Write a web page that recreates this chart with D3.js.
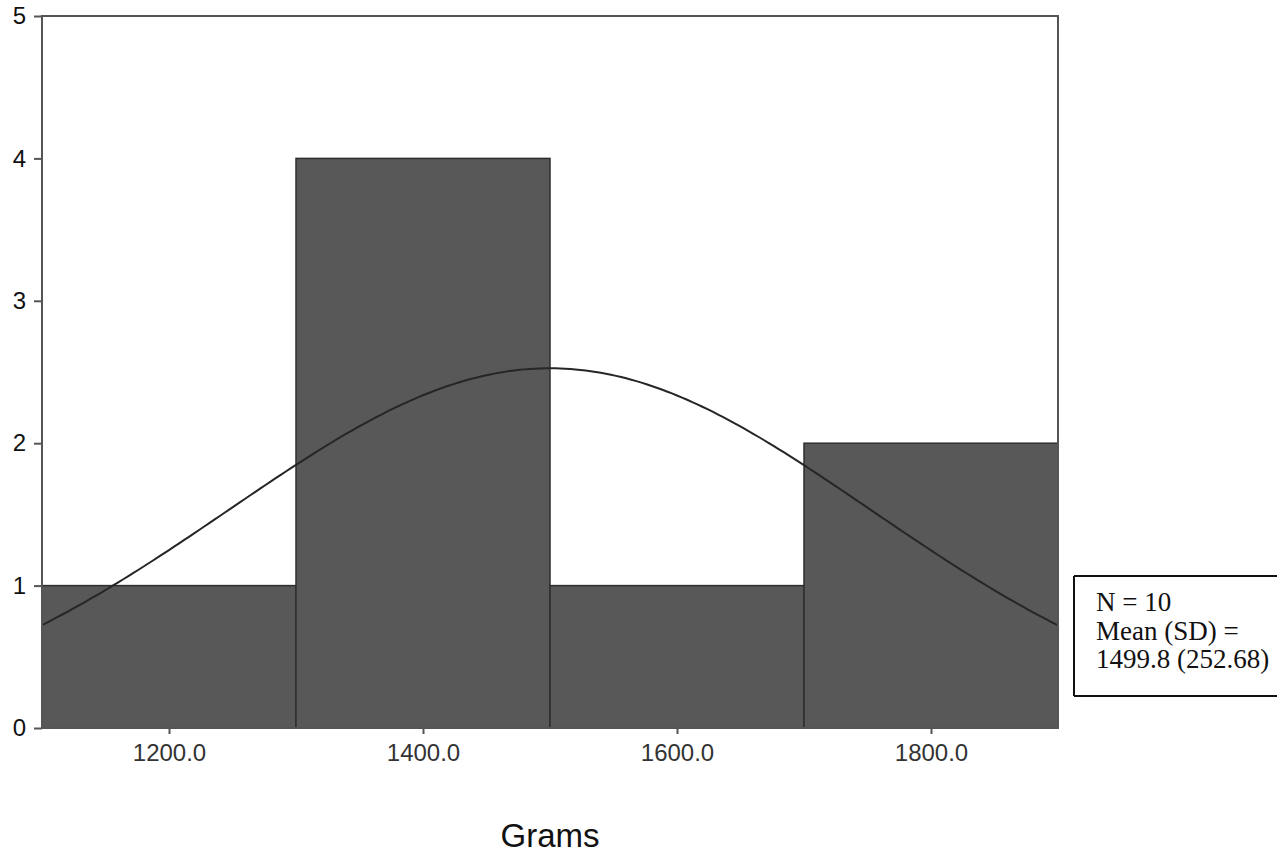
<!DOCTYPE html>
<html>
<head>
<meta charset="utf-8">
<script src="https://cdn.jsdelivr.net/npm/d3@7/dist/d3.min.js"></script>
<style>
  html, body { margin: 0; padding: 0; background: #fff; }
  svg { display: block; }
</style>
</head>
<body>
<script>
// Histogram of weights (grams) with fitted normal curve
const binStarts = [1100, 1300, 1500, 1700];
const binWidth = 200;
const counts = [1, 4, 1, 2];
const xTicks = [1200, 1400, 1600, 1800];
const yTicks = [0, 1, 2, 3, 4, 5];
const statN = 10;
const statMean = 1499.8;
const statSD = 252.68;

const W = 1285, H = 856;
const plotLeft = 42, plotRight = 1058, plotTop = 16, plotBottom = 728;

const svg = d3.select("body").append("svg")
  .attr("width", W).attr("height", H);

const x = d3.scaleLinear().domain([1100, 1900]).range([plotLeft, plotRight]);
const y = d3.scaleLinear().domain([0, 5]).range([plotBottom, plotTop]);

// bars
svg.append("g").selectAll("rect")
  .data(binStarts.map((s, i) => ({ s, c: counts[i] })))
  .join("rect")
  .attr("x", d => x(d.s))
  .attr("y", d => y(d.c))
  .attr("width", d => x(d.s + binWidth) - x(d.s))
  .attr("height", d => y(0) - y(d.c))
  .attr("fill", "#585858")
  .attr("stroke", "#2e2e2e")
  .attr("stroke-width", 1.5);

// normal curve scaled to the histogram's total count
const total = d3.sum(counts);
const dens = v => total * binWidth / (statSD * Math.sqrt(2 * Math.PI)) *
  Math.exp(-0.5 * ((v - statMean) / statSD) ** 2);
const xs = d3.range(1100, 1900.01, 4);
svg.append("path")
  .datum(xs)
  .attr("fill", "none")
  .attr("stroke", "#262626")
  .attr("stroke-width", 2)
  .attr("d", d3.line().x(v => x(v)).y(v => y(dens(v))));

// frame
svg.append("rect")
  .attr("x", plotLeft).attr("y", plotTop)
  .attr("width", plotRight - plotLeft).attr("height", plotBottom - plotTop)
  .attr("fill", "none").attr("stroke", "#555").attr("stroke-width", 2);

// y axis
const yAxis = svg.append("g")
  .attr("transform", `translate(${plotLeft},0)`)
  .call(d3.axisLeft(y).tickValues(yTicks).tickFormat(d3.format("d")).tickSize(8).tickPadding(8));
yAxis.select(".domain").remove();
yAxis.selectAll("line").attr("stroke", "#555").attr("stroke-width", 2);
yAxis.selectAll("text")
  .attr("font-family", "Arial, 'Liberation Sans', sans-serif")
  .attr("font-size", 24).attr("fill", "#111");

// x axis
const xAxis = svg.append("g")
  .attr("transform", `translate(0,${plotBottom})`)
  .call(d3.axisBottom(x).tickValues(xTicks).tickFormat(d3.format(".1f")).tickSize(6).tickPadding(10));
xAxis.select(".domain").remove();
xAxis.selectAll("line").attr("stroke", "#555").attr("stroke-width", 2);
xAxis.selectAll("text")
  .attr("font-family", "Arial, 'Liberation Sans', sans-serif")
  .attr("font-size", 24).attr("fill", "#333");

// axis title
svg.append("text")
  .attr("x", 550).attr("y", 847)
  .attr("text-anchor", "middle")
  .attr("font-family", "Arial, 'Liberation Sans', sans-serif")
  .attr("font-size", 33).attr("fill", "#111")
  .text("Grams");

// statistics box (open on the right)
const bx0 = 1074, bx1 = 1277, by0 = 576, by1 = 696;
const box = svg.append("g").attr("stroke", "#111").attr("stroke-width", 2);
box.append("line").attr("x1", bx0).attr("y1", by0).attr("x2", bx1).attr("y2", by0);
box.append("line").attr("x1", bx0).attr("y1", by1).attr("x2", bx1).attr("y2", by1);
box.append("line").attr("x1", bx0).attr("y1", by0).attr("x2", bx0).attr("y2", by1);

const statLines = [
  `N = ${statN}`,
  "Mean (SD) =",
  `${statMean.toFixed(1)} (${statSD.toFixed(2)})`
];
svg.append("g").selectAll("text")
  .data(statLines)
  .join("text")
  .attr("x", 1096)
  .attr("y", (d, i) => 611 + i * 28.5)
  .attr("font-family", "'Liberation Serif', 'Times New Roman', serif")
  .attr("font-size", 27).attr("fill", "#111")
  .text(d => d);
</script>
</body>
</html>
